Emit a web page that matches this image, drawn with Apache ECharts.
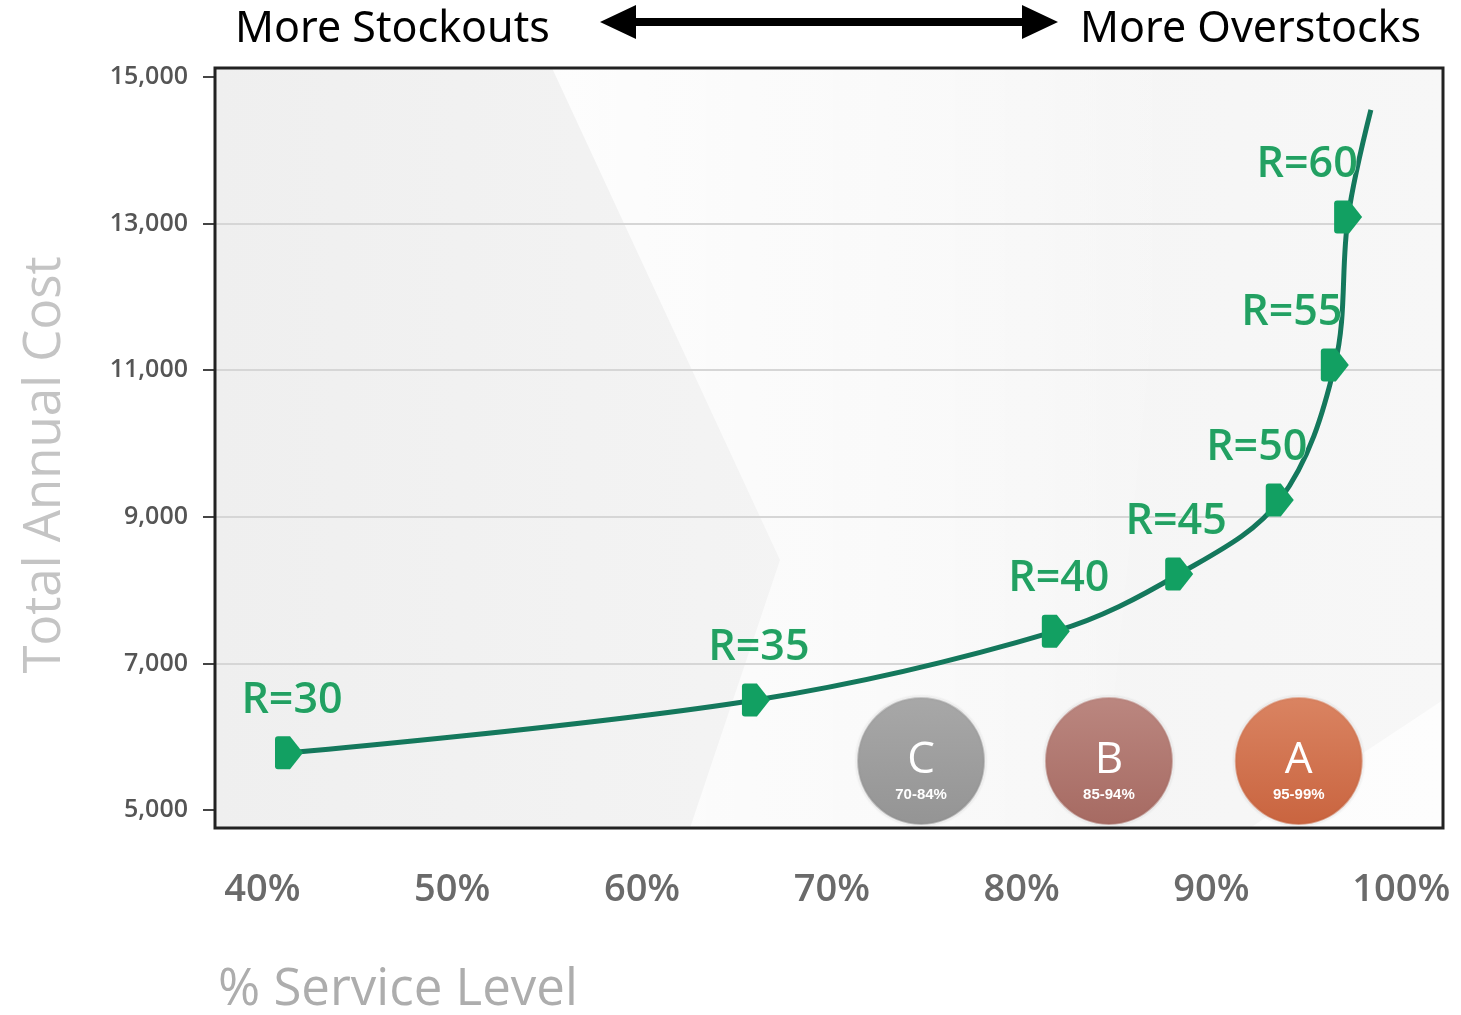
<!DOCTYPE html>
<html>
<head>
<meta charset="utf-8">
<title>Total Annual Cost vs Service Level</title>
<script src="https://cdn.jsdelivr.net/npm/echarts@6/dist/echarts.min.js"></script>
<style>
    html, body { margin: 0; padding: 0; background: #fff; }
    #chart { width: 1461px; height: 1015px; }
</style>
</head>
<body>
<div id="chart"></div>
<script>
// 数据
const serviceLevel = [41.4, 66.0, 81.8, 88.3, 93.6, 96.5, 97.2];
const annualCost = [5780, 6500, 7440, 8220, 9230, 11070, 13090];
const reorderPoints = [30, 35, 40, 45, 50, 55, 60];
// curve keeps rising past the last marker
const curveEnd = [98.4, 14550];

const xTickValues = [40, 50, 60, 70, 80, 90, 100];
const yTickValues = [5000, 7000, 9000, 11000, 13000, 15000];

const classNames = ["C", "B", "A"];
const classRanges = ["70-84%", "85-94%", "95-99%"];
const classX = [74.7, 84.6, 94.6];
const classY = [5670, 5670, 5670];

// label shifts (px) so the upper labels sit left of the steep part
const labelShiftX = [3, 3, 3, -3, -23, -43, -41];
const classColors = [
    ["#a8a8a8", "#949494"],
    ["#bb8780", "#a66a62"],
    ["#da8462", "#c9643f"]
];

const ecDom = document.getElementById("chart");
const ecIns = echarts.init(ecDom);

const markerPath = "path://M3,0 H15 L28,16.5 L15,33 H3 Q0,33 0,30 V3 Q0,0 3,0 Z";

const lineData = serviceLevel.map((x, i) => ({
    value: [x, annualCost[i]],
    label: {
        show: true,
        formatter: "R=" + reorderPoints[i],
        offset: [labelShiftX[i], 0]
    }
}));
lineData.push({value: curveEnd, symbol: "none", label: {show: false}});

const classData = classNames.map((n, i) => ({
    value: [classX[i], classY[i]],
    name: n,
    range: classRanges[i],
    itemStyle: {
        color: new echarts.graphic.LinearGradient(0, 0, 0, 1, [
            {offset: 0, color: classColors[i][0]},
            {offset: 1, color: classColors[i][1]}
        ])
    }
}));

// 箭头
const arrowY = 22;
const arrowPts = [
    [600, arrowY], [636, arrowY - 17], [636, arrowY - 4], [1022, arrowY - 4], [1022, arrowY - 17],
    [1058, arrowY], [1022, arrowY + 17], [1022, arrowY + 4], [636, arrowY + 4], [636, arrowY + 17]
];

const option = {
    animation: false,
    backgroundColor: "#ffffff",
    grid: {
        left: 215,
        right: 18,
        top: 77,
        bottom: 205
    },
    graphic: [
        {
            type: "rect",
            z: -10,
            silent: true,
            shape: {x: 215, y: 68, width: 1228, height: 760},
            style: {
                fill: new echarts.graphic.LinearGradient(0, 0, 1, 0, [
                    {offset: 0, color: "#efefef"},
                    {offset: 0.5, color: "#f4f4f4"},
                    {offset: 1, color: "#f7f7f7"}
                ])
            }
        },
        {
            type: "polygon",
            z: -9,
            silent: true,
            smooth: 0.2,
            shape: {points: [[552, 68], [1180, 68], [1100, 828], [690, 828], [780, 560]]},
            style: {
                fill: new echarts.graphic.LinearGradient(0, 0, 1, 0, [
                    {offset: 0, color: "rgba(255,255,255,0.85)"},
                    {offset: 0.6, color: "rgba(255,255,255,0.5)"},
                    {offset: 1, color: "rgba(255,255,255,0)"}
                ])
            }
        },
        {
            type: "polygon",
            z: -9,
            silent: true,
            shape: {points: [[1250, 828], [1443, 700], [1443, 828]]},
            style: {fill: "rgba(255,255,255,0.7)"}
        },
        {
            type: "rect",
            z: 50,
            silent: true,
            shape: {x: 215, y: 68, width: 1228, height: 760},
            style: {fill: "none", stroke: "#222", lineWidth: 3}
        },
        {
            type: "text",
            left: 235,
            top: 8,
            style: {text: "More Stockouts", font: "43px 'Noto Sans'", fill: "#000"}
        },
        {
            type: "text",
            left: 1080,
            top: 8,
            style: {text: "More Overstocks", font: "43px 'Noto Sans'", fill: "#000"}
        },
        {
            type: "polygon",
            shape: {points: arrowPts},
            style: {fill: "#000"}
        },
        {
            type: "text",
            x: 45,
            y: 465,
            rotation: Math.PI / 2,
            style: {
                text: "Total Annual Cost",
                font: "51px 'Open Sans'",
                fill: "#c4c4c4",
                align: "center",
                verticalAlign: "middle"
            }
        },
        {
            type: "text",
            x: 218,
            y: 990,
            style: {
                text: "% Service Level",
                font: "51px 'Open Sans'",
                fill: "#adadad",
                verticalAlign: "middle"
            }
        }
    ],
    xAxis: {
        type: "value",
        min: 37.5,
        max: 102.2,
        axisLine: {show: false},
        axisTick: {show: false},
        splitLine: {show: false},
        axisLabel: {
            customValues: xTickValues,
            formatter: "{value}%",
            margin: 61,
            fontSize: 38,
            fontFamily: "Open Sans",
            fontWeight: 600,
            color: "#6a6a6a"
        }
    },
    yAxis: {
        type: "value",
        min: 5000,
        max: 15000,
        interval: 2000,
        axisLine: {show: false},
        axisTick: {
            show: true,
            customValues: yTickValues,
            length: 12,
            lineStyle: {color: "#444", width: 2}
        },
        splitLine: {
            show: true,
            lineStyle: {
                color: ["transparent", "#d6d6d6", "#d6d6d6", "#d6d6d6", "#d6d6d6", "transparent"],
                width: 2
            }
        },
        axisLabel: {
            customValues: yTickValues,
            margin: 27,
            fontSize: 25,
            fontFamily: "Open Sans",
            fontWeight: 600,
            color: "#555",
            formatter: (v) => v.toLocaleString("en-US")
        }
    },
    series: [
        {
            type: "scatter",
            data: classData,
            symbol: "circle",
            symbolSize: 128,
            z: 1,
            itemStyle: {
                opacity: 1,
                borderColor: "rgba(255,255,255,0.4)",
                borderWidth: 2,
                shadowColor: "rgba(0,0,0,0.15)",
                shadowBlur: 3
            },
            label: {
                show: true,
                position: "inside",
                offset: [0, 12],
                formatter: (p) => "{a|" + p.data.name + "}\n{b|" + p.data.range + "}",
                rich: {
                    a: {fontSize: 44, lineHeight: 44, color: "#fff", fontFamily: "Open Sans"},
                    b: {fontSize: 15, lineHeight: 24, color: "#fff", fontFamily: "Liberation Sans", fontWeight: "bold"}
                }
            }
        },
        {
            type: "line",
            data: lineData,
            smooth: 0.35,
            z: 3,
            symbol: markerPath,
            symbolSize: [28, 33],
            symbolKeepAspect: false,
            lineStyle: {color: "#14785c", width: 5},
            itemStyle: {color: "#12a062"},
            label: {
                position: "top",
                distance: 14,
                fontSize: 43,
                fontFamily: "Open Sans",
                fontWeight: 600,
                color: "#22a062",
                textBorderColor: "rgba(230,255,240,0.8)",
                textBorderWidth: 1
            }
        }
    ]
};

ecIns.setOption(option, true);
window.addEventListener("resize", () => ecIns.resize());
</script>
</body>
</html>
